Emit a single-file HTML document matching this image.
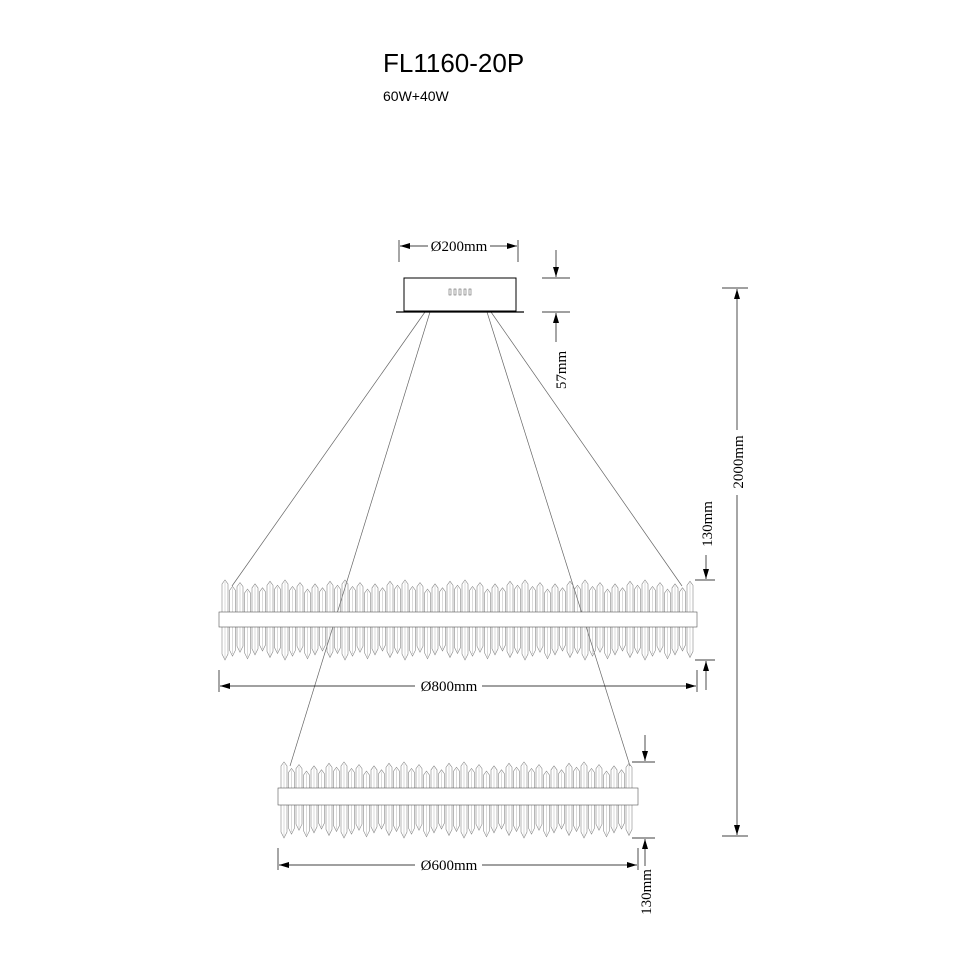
<!DOCTYPE html>
<html><head><meta charset="utf-8"><style>body{margin:0;background:#fff}svg{display:block}</style></head>
<body>
<svg id="s" width="970" height="970" xmlns="http://www.w3.org/2000/svg" font-family="Liberation Serif, serif">
<defs>
<marker id="a" viewBox="0 0 10 6" refX="10" refY="3" markerWidth="10" markerHeight="6" orient="auto" markerUnits="userSpaceOnUse"><path d="M0,0L10,3L0,6z" fill="#000"/></marker>
</defs>
<text x="383" y="72" font-family="Liberation Sans, sans-serif" font-size="26">FL1160-20P</text>
<text x="383" y="101" font-family="Liberation Sans, sans-serif" font-size="14">60W+40W</text>
<g stroke="#666" stroke-width="0.7" fill="none">
<line x1="425" y1="312" x2="232" y2="586"/>
<line x1="491" y1="312" x2="682" y2="586"/>
<line x1="430" y1="312" x2="290" y2="766"/>
<line x1="487" y1="312" x2="630" y2="766"/>
</g>
<rect x="404" y="278" width="112" height="33" fill="#fff" stroke="#000" stroke-width="1"/>
<line x1="396" y1="312" x2="524" y2="312" stroke="#000" stroke-width="1.2"/>
<g fill="none" stroke="#666" stroke-width="0.6">
<rect x="449" y="289" width="2" height="6"/><rect x="454" y="289" width="2" height="6"/><rect x="459" y="289" width="2" height="6"/><rect x="464" y="289" width="2" height="6"/><rect x="469" y="289" width="2" height="6"/>
</g>
<g id="rings" stroke="#888" stroke-width="0.6" fill="#fff"></g>
<g stroke="#000" stroke-width="0.7" fill="none">
<line x1="399" y1="240" x2="399" y2="262"/><line x1="518" y1="240" x2="518" y2="262"/>
<line x1="428" y1="246" x2="400" y2="246" marker-end="url(#a)"/><line x1="490" y1="246" x2="517" y2="246" marker-end="url(#a)"/>
<line x1="542" y1="278" x2="570" y2="278"/><line x1="542" y1="312" x2="570" y2="312"/>
<line x1="556" y1="250" x2="556" y2="277" marker-end="url(#a)"/><line x1="556" y1="342" x2="556" y2="313" marker-end="url(#a)"/>
<line x1="722" y1="288" x2="748" y2="288"/><line x1="722" y1="836" x2="748" y2="836"/>
<line x1="737" y1="430" x2="737" y2="289" marker-end="url(#a)"/><line x1="737" y1="495" x2="737" y2="835" marker-end="url(#a)"/>
<line x1="695" y1="580" x2="715" y2="580"/><line x1="695" y1="660" x2="715" y2="660"/>
<line x1="706" y1="555" x2="706" y2="579" marker-end="url(#a)"/><line x1="706" y1="690" x2="706" y2="661" marker-end="url(#a)"/>
<line x1="219" y1="670" x2="219" y2="692"/><line x1="697" y1="670" x2="697" y2="692"/>
<line x1="415" y1="686" x2="220" y2="686" marker-end="url(#a)"/><line x1="482" y1="686" x2="696" y2="686" marker-end="url(#a)"/>
<line x1="278" y1="848" x2="278" y2="870"/><line x1="638" y1="848" x2="638" y2="870"/>
<line x1="415" y1="865" x2="279" y2="865" marker-end="url(#a)"/><line x1="482" y1="865" x2="637" y2="865" marker-end="url(#a)"/>
<line x1="632" y1="762" x2="655" y2="762"/><line x1="632" y1="838" x2="655" y2="838"/>
<line x1="645" y1="735" x2="645" y2="761" marker-end="url(#a)"/><line x1="645" y1="866" x2="645" y2="839" marker-end="url(#a)"/>
</g>
<g font-size="15" fill="#000">
<text x="459" y="251" text-anchor="middle">Ø200mm</text>
<text x="449" y="691" text-anchor="middle">Ø800mm</text>
<text x="449" y="870" text-anchor="middle">Ø600mm</text>
<text transform="translate(566,370) rotate(-90)" text-anchor="middle">57mm</text>
<text transform="translate(743,462) rotate(-90)" text-anchor="middle">2000mm</text>
<text transform="translate(712,524) rotate(-90)" text-anchor="middle">130mm</text>
<text transform="translate(651,892) rotate(-90)" text-anchor="middle">130mm</text>
</g>
</svg>
<script>
var g=document.getElementById('rings'),ns='http://www.w3.org/2000/svg';
function el(t,a){var e=document.createElementNS(ns,t);for(var k in a)e.setAttribute(k,a[k]);g.appendChild(e);}
function ring(x0,x1,bt,bb,top,bot){
 var i=0;
 for(var x=x0+3;x<x1-6;x+=7.5,i++){
  var v=[0,5,2,7,3,6,1,4][i%8];
  var t=top+v*1.3, b=bot-((i*3)%8)*1.3, w=6;
  el('path',{d:'M'+x+','+bt+'V'+(t+4)+'L'+(x+w/2)+','+t+'L'+(x+w)+','+(t+4)+'V'+bt,fill:'none'});
  el('path',{d:'M'+x+','+bb+'V'+(b-6)+'L'+(x+w/2)+','+b+'L'+(x+w)+','+(b-6)+'V'+bb,fill:'none'});
  el('line',{x1:x+w/2,y1:t+2,x2:x+w/2,y2:bt,'stroke-width':0.3});
  el('line',{x1:x+w/2,y1:bb,x2:x+w/2,y2:b-2,'stroke-width':0.3});
 }
 el('rect',{x:x0,y:bt,width:x1-x0,height:bb-bt,fill:'#fff',stroke:'#555'});
}
ring(219,697,612,627,580,660);
ring(278,638,788,805,762,838);
</script>
</body></html>
